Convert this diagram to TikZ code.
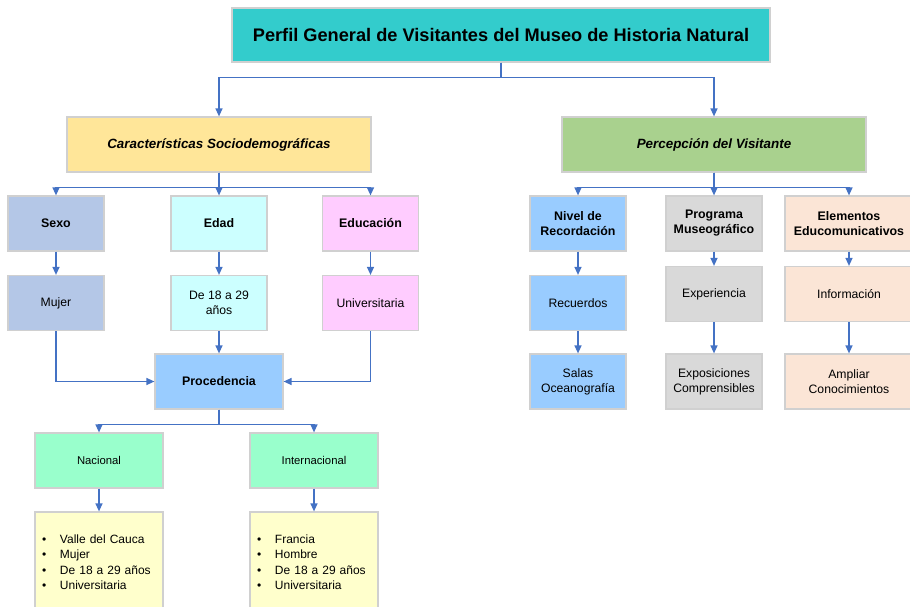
\documentclass[tikz,border=0pt]{standalone}
\usepackage{fontspec}
\setmainfont{Liberation Sans}
\usetikzlibrary{arrows.meta}
\definecolor{teal1}{HTML}{33CCCC}
\definecolor{gold1}{HTML}{FFE699}
\definecolor{green1}{HTML}{A9D18E}
\definecolor{slate1}{HTML}{B4C7E7}
\definecolor{cyan1}{HTML}{CCFFFF}
\definecolor{pink1}{HTML}{FFCCFF}
\definecolor{blue1}{HTML}{99CCFF}
\definecolor{gray1}{HTML}{D9D9D9}
\definecolor{peach1}{HTML}{FBE5D6}
\definecolor{mint1}{HTML}{99FFCC}
\definecolor{cream1}{HTML}{FFFFCC}
\definecolor{edge1}{HTML}{D0D0D0}
\definecolor{link1}{HTML}{4472C4}
\begin{document}
\begin{tikzpicture}[x=1pt,y=-1pt,
  box/.style={draw=edge1, line width=1.2pt, inner sep=0pt, align=center,
    minimum width=96pt, minimum height=55pt, font=\fontsize{12.2}{15}\selectfont},
  head/.style={box, font=\fontsize{12.4}{15}\selectfont\bfseries},
  wide/.style={minimum width=128pt},
  branch/.style={box, minimum width=304pt, font=\fontsize{13.4}{16}\selectfont\bfseries\itshape},
  listbox/.style={box, wide, minimum height=100pt, align=left, text width=114pt,
    inner xsep=7pt, fill=cream1, font=\fontsize{12}{15.5}\selectfont},
  arr/.style={draw=link1, line width=1.3pt, -{Triangle[width=7pt,length=8pt]}}]
\useasboundingbox (0,0) rectangle (910,607);
\newcommand{\itm}[1]{\makebox[18pt][l]{\textbullet}#1}
\node[box, fill=teal1, minimum width=538pt, minimum height=54pt,
  font=\fontsize{18.2}{21}\selectfont\bfseries] (title) at (501,35)
  {Perfil General de Visitantes del Museo de Historia Natural};
\node[branch, fill=gold1] (socio) at (219,144.5) {Características Sociodemográficas};
\node[branch, fill=green1] (perc) at (714,144.5) {Percepción del Visitante};
\draw[arr] (title.south) -- ++(0,15) -| (socio.north);
\draw[arr] (title.south) -- ++(0,15) -| (perc.north);
\node[head, fill=slate1] (sexo) at (56,223.5) {Sexo};
\node[head, fill=cyan1] (edad) at (219,223.5) {Edad};
\node[head, fill=pink1] (educ) at (370.5,223.5) {Educación};
\draw[arr] (socio.south) -- ++(0,15) -| (sexo.north);
\draw[arr] (socio.south) -- (edad.north);
\draw[arr] (socio.south) -- ++(0,15) -| (educ.north);
\node[box, fill=slate1] (mujer) at (56,303) {Mujer};
\node[box, fill=cyan1] (anos) at (219,303) {De 18 a 29\\años};
\node[box, fill=pink1] (univ) at (370.5,303) {Universitaria};
\draw[arr] (sexo) -- (mujer);
\draw[arr] (edad) -- (anos);
\draw[arr] (educ) -- (univ);
\node[head, wide, fill=blue1] (proc) at (219,381.5) {Procedencia};
\draw[arr] (anos) -- (proc);
\draw[arr] (mujer.south) |- (proc.west);
\draw[arr] (univ.south) |- (proc.east);
\node[box, wide, fill=mint1, font=\fontsize{11.3}{13}\selectfont] (nac) at (99,460.5) {Nacional};
\node[box, wide, fill=mint1, font=\fontsize{11.3}{13}\selectfont] (intl) at (314,460.5) {Internacional};
\draw[arr] (proc.south) -- ++(0,15) -| (nac.north);
\draw[arr] (proc.south) -- ++(0,15) -| (intl.north);
\node[listbox] (nacl) at (99,562)
  {\itm{Valle del Cauca}\\\itm{Mujer}\\\itm{De 18 a 29 años}\\\itm{Universitaria}};
\node[listbox] (intll) at (314,562)
  {\itm{Francia}\\\itm{Hombre}\\\itm{De 18 a 29 años}\\\itm{Universitaria}};
\draw[arr] (nac) -- (nacl);
\draw[arr] (intl) -- (intll);
\node[head, fill=blue1] (nivel) at (578,223.5) {Nivel de\\Recordación};
\node[head, fill=gray1] (prog) at (714,223.5) {Programa\\Museográfico};
\node[head, wide, fill=peach1] (elem) at (849,223.5) {Elementos\\Educomunicativos};
\draw[arr] (perc.south) -- ++(0,15) -| (nivel.north);
\draw[arr] (perc.south) -- (prog.north);
\draw[arr] (perc.south) -- ++(0,15) -| (elem.north);
\node[box, fill=blue1] (recu) at (578,303) {Recuerdos};
\node[box, fill=blue1] (salas) at (578,381.5) {Salas\\Oceanografía};
\draw[arr] (nivel) -- (recu);
\draw[arr] (recu) -- (salas);
\node[box, fill=gray1] (exper) at (714,294) {Experiencia};
\node[box, fill=gray1] (expos) at (714,381.5) {Exposiciones\\Comprensibles};
\draw[arr] (prog) -- (exper);
\draw[arr] (exper) -- (expos);
\node[box, wide, fill=peach1] (info) at (849,294) {Información};
\node[box, wide, fill=peach1] (ampl) at (849,381.5) {Ampliar\\Conocimientos};
\draw[arr] (elem) -- (info);
\draw[arr] (info) -- (ampl);
\end{tikzpicture}
\end{document}
